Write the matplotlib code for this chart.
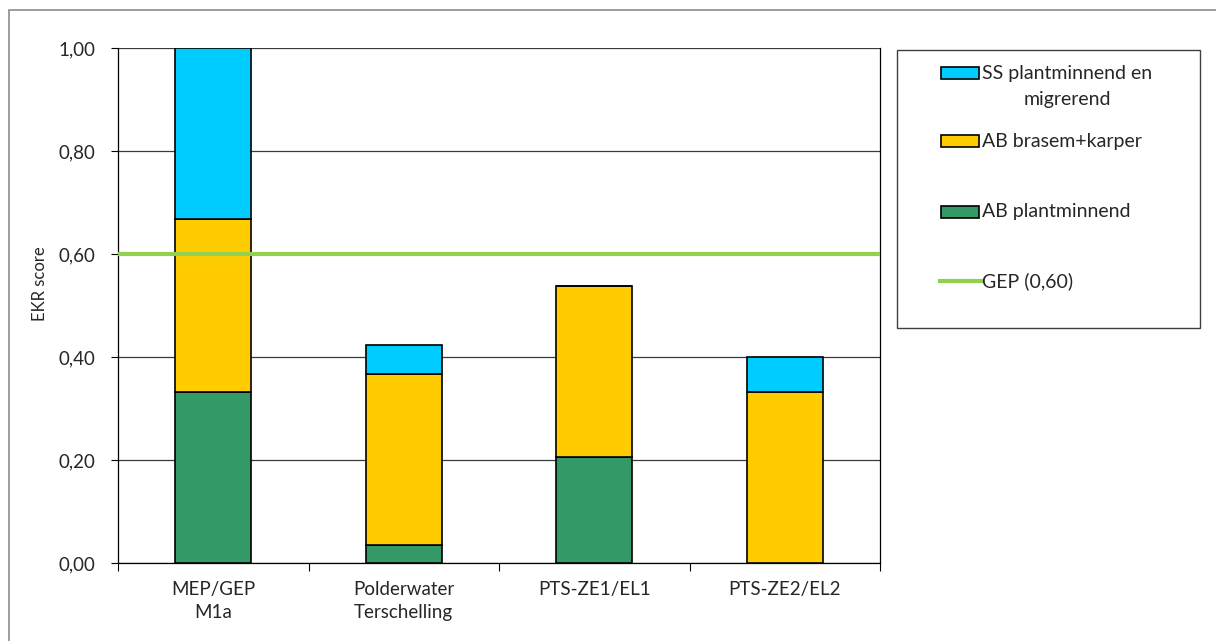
import matplotlib
matplotlib.use("Agg")
import matplotlib.pyplot as plt
from matplotlib.patches import Rectangle
from matplotlib.lines import Line2D
import numpy as np

plt.rcParams['font.family'] = ['Lato', 'DejaVu Sans']

categories = ["MEP/GEP\nM1a", "Polderwater\nTerschelling", "PTS-ZE1/EL1", "PTS-ZE2/EL2"]
ab_plantminnend = [0.333, 0.035, 0.206, 0.0]
ab_brasem_karper = [0.334, 0.332, 0.332, 0.333]
ss_plantminnend_migrerend = [0.333, 0.056, 0.0, 0.067]
gep_value = 0.60
yticks = [0.0, 0.2, 0.4, 0.6, 0.8, 1.0]
ytick_labels = ["0,00", "0,20", "0,40", "0,60", "0,80", "1,00"]

series_labels = ["SS plantminnend en\nmigrerend", "AB brasem+karper", "AB plantminnend", "GEP (0,60)"]
c_blue = "#00CCFF"
c_yellow = "#FFCC00"
c_green = "#339966"
c_gep = "#92D050"
txt = "#262626"
fs_tick = 13.5
fs_leg = 14

W, H = 1216, 641
fig = plt.figure(figsize=(W / 100, H / 100), dpi=100)
ax = fig.add_axes([118 / W, 1 - 563 / H, (880 - 118) / W, (563 - 48) / H])

x = np.arange(len(categories))
bw = 0.4
kw = dict(width=bw, edgecolor="black", linewidth=1.2, zorder=3)
green = np.array(ab_plantminnend)
yellow = np.array(ab_brasem_karper)
blue = np.array(ss_plantminnend_migrerend)
ax.bar(x, green, color=c_green, **kw)
ax.bar(x, yellow, bottom=green, color=c_yellow, **kw)
ax.bar(x, blue, bottom=green + yellow, color=c_blue, **kw)

ax.axhline(gep_value, color=c_gep, linewidth=3.0, zorder=4)

ax.set_xlim(-0.5, len(categories) - 0.5)
ax.set_ylim(0, 1.0)
ax.set_yticks(yticks)
ax.set_yticklabels(ytick_labels, fontsize=fs_tick, color=txt)
ax.yaxis.grid(True, color="#3a3a3a", linewidth=0.9, zorder=0)
ax.set_axisbelow(True)

# category labels centred under each bar, ticks between categories
ax.set_xticks(x)
ax.set_xticklabels(categories, fontsize=fs_tick, color=txt, linespacing=1.45)
ax.tick_params(axis="x", length=0, pad=13)
ax.set_xticks(np.arange(-0.5, len(categories), 1.0), minor=True)
ax.tick_params(axis="x", which="minor", length=6, width=0.8, direction="out")
ax.tick_params(axis="y", length=5, width=0.8, direction="out", pad=11)

for side in ["left", "bottom", "right"]:
    ax.spines[side].set_color("black")
    ax.spines[side].set_linewidth(0.9)
ax.spines["top"].set_visible(False)

ax.set_ylabel("EKR score", fontsize=12, color=txt, va="center")
ax.yaxis.set_label_coords((40 - 118) / 762, (563 - 284) / 515)

# chart area border
fig.patches.append(Rectangle((9 / W, -0.1), 1.2, 1 - 10 / H + 0.1, transform=fig.transFigure,
                             fill=False, edgecolor="#8c8c8c", linewidth=1.2))

# legend box
lx0, lx1, ly0, ly1 = 897, 1200, 50, 328
fig.patches.append(Rectangle((lx0 / W, 1 - ly1 / H), (lx1 - lx0) / W, (ly1 - ly0) / H,
                             transform=fig.transFigure, fill=False,
                             edgecolor="#404040", linewidth=1.0))

hx0, hx1 = 941, 979
entries = [(c_blue, 73), (c_yellow, 141), (c_green, 212)]
for (col, yc), lab in zip(entries, series_labels[:3]):
    fig.patches.append(Rectangle((hx0 / W, 1 - (yc + 6) / H), (hx1 - hx0) / W, 12 / H,
                                 transform=fig.transFigure, facecolor=col,
                                 edgecolor="black", linewidth=1.2))
    if "\n" in lab:
        first, second = lab.split("\n")
        t1 = fig.text(982 / W, 1 - yc / H, first, fontsize=fs_leg, color=txt,
                      ha="left", va="center")
        # second line centred under the first
        fig.canvas.draw()
        bb = t1.get_window_extent()
        xc = (bb.x0 + bb.x1) / 2 / fig.bbox.width
        fig.text(xc, 1 - (yc + 26) / H, second, fontsize=fs_leg, color=txt,
                 ha="center", va="center")
    else:
        fig.text(982 / W, 1 - yc / H, lab, fontsize=fs_leg, color=txt,
                 ha="left", va="center")

fig.lines.append(Line2D([940 / W, 981 / W], [1 - 281 / H, 1 - 281 / H],
                        transform=fig.transFigure, color=c_gep, linewidth=3.0))
fig.text(982 / W, 1 - 281 / H, series_labels[3], fontsize=fs_leg, color=txt,
         ha="left", va="center")

fig.savefig("out.png", dpi=100, facecolor="white")
